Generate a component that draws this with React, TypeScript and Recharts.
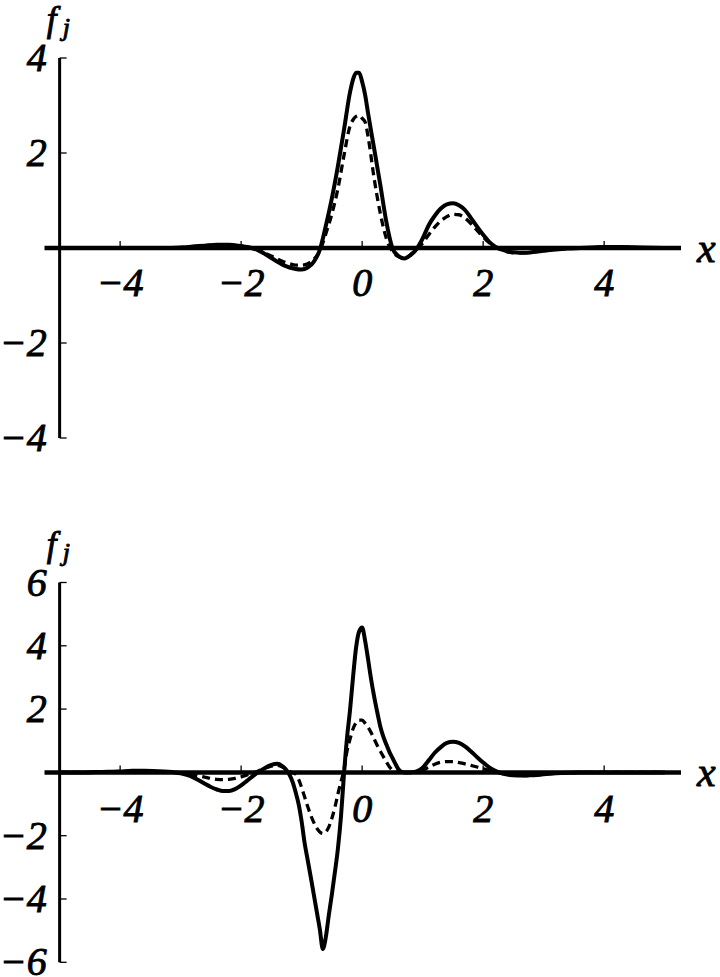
import React from 'react';
import { LineChart, Line, XAxis, YAxis, ReferenceLine, ReferenceDot } from 'recharts';

// x ticks shared by both panels
const xTicks = [-4, -2, 0, 2, 4];
const xTickLabels = ['−4', '−2', '0', '2', '4'];

const topYTicks = [4, 2, -2, -4];
const topYTickLabels = ['4', '2', '−2', '−4'];
const bottomYTicks = [6, 4, 2, -2, -4, -6];
const bottomYTickLabels = ['6', '4', '2', '−2', '−4', '−6'];

// upper panel
const topX = [
  -5, -4.5, -4, -3.5, -3.2, -3.0, -2.8, -2.6, -2.4, -2.2, -2.0, -1.9, -1.8, -1.7, -1.6, -1.5,
  -1.4, -1.3, -1.2, -1.1, -1.0, -0.9, -0.8, -0.7, -0.6, -0.5, -0.4, -0.3, -0.2, -0.15, -0.1,
  -0.05, 0, 0.05, 0.1, 0.2, 0.3, 0.4, 0.5, 0.6, 0.7, 0.8, 0.9, 1.0, 1.1, 1.2, 1.3, 1.4, 1.5,
  1.6, 1.7, 1.8, 1.9, 2.0, 2.1, 2.2, 2.3, 2.4, 2.5, 2.6, 2.7, 2.8, 3.0, 3.2, 3.4, 3.6, 3.8,
  4.0, 4.3, 4.6, 5.0,
];
const topSolid = [
  0, 0, 0, 0, 0, 0.01, 0.03, 0.05, 0.07, 0.07, 0.04, 0.02, -0.01, -0.06, -0.13, -0.21,
  -0.29, -0.36, -0.41, -0.44, -0.45, -0.41, -0.29, -0.04, 0.47, 1.05, 1.73, 2.49, 3.28, 3.55, 3.69,
  3.69, 3.5, 3.22, 2.82, 2.08, 1.33, 0.55, 0.0, -0.17, -0.22, -0.15, -0.02, 0.2, 0.48, 0.68, 0.83, 0.92, 0.94,
  0.9, 0.8, 0.63, 0.45, 0.28, 0.13, 0.03, -0.03, -0.07, -0.09, -0.1, -0.1, -0.09, -0.06, -0.03, -0.01, 0.0, 0.01,
  0.02, 0.02, 0.01, 0,
];
const topDashed = [
  0, 0, 0, 0, 0, 0.01, 0.03, 0.05, 0.06, 0.06, 0.04, 0.02, -0.01, -0.05, -0.11, -0.17,
  -0.23, -0.29, -0.33, -0.36, -0.36, -0.33, -0.24, -0.06, 0.3, 0.72, 1.25, 1.95, 2.57, 2.7, 2.77,
  2.79, 2.73, 2.65, 2.33, 1.45, 0.73, 0.2, -0.07, -0.18, -0.21, -0.14, -0.03, 0.1, 0.28, 0.44, 0.57, 0.66, 0.71,
  0.7, 0.63, 0.51, 0.37, 0.23, 0.11, 0.02, -0.04, -0.08, -0.1, -0.1, -0.1, -0.09, -0.06, -0.03, -0.01, 0, 0.01,
  0.02, 0.02, 0.01, 0,
];

// lower panel
const bottomX = [
  -5, -4.6, -4.4, -4.2, -4.0, -3.8, -3.6, -3.4, -3.2, -3.1, -3.0, -2.9, -2.8, -2.7, -2.6, -2.5,
  -2.4, -2.3, -2.2, -2.1, -2.0, -1.9, -1.8, -1.7, -1.6, -1.5, -1.4, -1.3, -1.25, -1.2, -1.15,
  -1.1, -1.05, -1.0, -0.95, -0.9, -0.85, -0.8, -0.75, -0.7, -0.65, -0.6, -0.55, -0.5, -0.45,
  -0.4, -0.35, -0.3, -0.25, -0.2, -0.15, -0.1, -0.05, 0, 0.05, 0.1, 0.15, 0.2, 0.25, 0.3,
  0.35, 0.4, 0.45, 0.5, 0.55, 0.6, 0.65, 0.7, 0.8, 0.9, 1.0, 1.1, 1.2, 1.3, 1.4, 1.5, 1.6,
  1.7, 1.8, 1.9, 2.0, 2.1, 2.2, 2.3, 2.4, 2.5, 2.6, 2.7, 2.8, 2.9, 3.0, 3.2, 3.4, 3.6, 4.0,
  4.5, 5.0,
];
const bottomSolid = [
  0, 0, 0.01, 0.02, 0.03, 0.05, 0.05, 0.04, 0.02, 0.0, -0.03, -0.08, -0.15, -0.25, -0.36, -0.46,
  -0.54, -0.59, -0.59, -0.53, -0.41, -0.26, -0.11, 0.03, 0.15, 0.24, 0.27, 0.17, 0.07, -0.08, -0.3,
  -0.62, -1.0, -1.55, -2.24, -2.77, -3.3, -3.85, -4.4, -4.95, -5.58, -5.2, -4.5, -3.85, -3.15,
  -2.4, -1.4, -0.05, 1.1, 1.97, 3.02, 3.95, 4.45, 4.58, 4.15, 3.55, 2.92, 2.38, 1.9, 1.45,
  1.13, 0.88, 0.65, 0.46, 0.27, 0.1, 0.02, 0.0, 0.0, 0.03, 0.15, 0.38, 0.62, 0.8, 0.93, 0.97, 0.93,
  0.82, 0.66, 0.48, 0.31, 0.16, 0.05, -0.02, -0.07, -0.09, -0.1, -0.1, -0.09, -0.08, -0.06, -0.03, -0.01, 0, 0,
  0, 0,
];
const bottomDashed = [
  0, 0, 0.01, 0.02, 0.03, 0.04, 0.04, 0.03, 0.01, 0, -0.01, -0.03, -0.07, -0.11, -0.15, -0.19,
  -0.22, -0.23, -0.22, -0.19, -0.14, -0.08, -0.01, 0.06, 0.14, 0.2, 0.22, 0.15, 0.09, 0.03, -0.01,
  -0.05, -0.22, -0.48, -0.78, -1.08, -1.35, -1.58, -1.76, -1.88, -1.93, -1.88, -1.72, -1.45, -1.1,
  -0.68, -0.3, 0.08, 0.68, 1.05, 1.38, 1.57, 1.65, 1.65, 1.55, 1.42, 1.25, 1.05, 0.85, 0.67,
  0.5, 0.33, 0.18, 0.07, 0.01, 0, 0, 0, 0, 0, 0.06, 0.17, 0.26, 0.32, 0.34, 0.34, 0.31,
  0.27, 0.22, 0.17, 0.12, 0.06, 0.01, -0.03, -0.07, -0.09, -0.1, -0.1, -0.09, -0.08, -0.06, -0.03, -0.01, 0, 0,
  0, 0,
];

const textProps = {
  fontFamily: "'Liberation Serif', 'Times New Roman', serif",
  fontStyle: 'italic',
  fill: '#000',
  stroke: '#000',
  strokeWidth: 0.9,
};

type PanelProps = {
  xs: number[];
  solid: number[];
  dashed: number[];
  yTicks: number[];
  yLabels: string[];
  yMax: number;
  top: number;
  height: number;
  marginTop: number;
  marginBottom: number;
  labelDrop: number;
};

const Panel = ({ xs, solid, dashed, yTicks, yLabels, yMax, top, height, marginTop, marginBottom, labelDrop }: PanelProps) => {
  const data = xs.map((x, i) => ({ x, solid: solid[i], dashed: dashed[i] }));
  return (
    <div style={{ position: 'absolute', left: 0, top, width: 720, height }}>
      <LineChart
        width={720}
        height={height}
        data={data}
        margin={{ top: marginTop, right: 39, bottom: marginBottom, left: 44.5 }}
      >
        <XAxis type="number" dataKey="x" domain={[-5.25, 5.27]} hide allowDataOverflow />
        <YAxis type="number" domain={[-yMax, yMax]} hide allowDataOverflow />

        {/* axes drawn as reference lines so they cross at the origin */}
        <ReferenceLine x={-5} stroke="#000" strokeWidth={3} />
        <ReferenceLine y={0} stroke="#000" strokeWidth={4.5} />

        {yTicks.map((t, i) => (
          <ReferenceDot
            key={'y' + t}
            x={-5}
            y={t}
            r={0}
            ifOverflow="visible"
            shape={(p: any) => (
              <g>
                <line x1={p.cx} x2={p.cx + 7} y1={p.cy} y2={p.cy} stroke="#000" strokeWidth={1.3} />
                <text x={p.cx - 13} y={p.cy + 13} textAnchor="end" fontSize={40} {...textProps}>
                  {yLabels[i]}
                </text>
              </g>
            )}
          />
        ))}

        {xTicks.map((t, i) => (
          <ReferenceDot
            key={'x' + t}
            x={t}
            y={0}
            r={0}
            ifOverflow="visible"
            shape={(p: any) => (
              <g>
                <line x1={p.cx} x2={p.cx} y1={p.cy} y2={p.cy - 7} stroke="#000" strokeWidth={1.3} />
                <text x={p.cx} y={p.cy + labelDrop} textAnchor="middle" fontSize={40} {...textProps}>
                  {xTickLabels[i]}
                </text>
              </g>
            )}
          />
        ))}

        <ReferenceDot
          x={5.27}
          y={0}
          r={0}
          ifOverflow="visible"
          shape={(p: any) => (
            <text x={p.cx + 16} y={p.cy + 14} fontSize={42} {...textProps}>
              x
            </text>
          )}
        />
        <ReferenceDot
          x={-5}
          y={yMax}
          r={0}
          ifOverflow="visible"
          shape={(p: any) => (
            <g>
              <text x={p.cx - 13} y={p.cy - 27} fontSize={35} {...textProps}>
                f
              </text>
              <text x={p.cx + 3} y={p.cy - 22} fontSize={26} {...textProps}>
                j
              </text>
            </g>
          )}
        />

        <Line
          type="monotone"
          dataKey="dashed"
          stroke="#000"
          strokeWidth={3.3}
          strokeDasharray="8 5"
          dot={false}
          activeDot={false}
          isAnimationActive={false}
        />
        <Line
          type="monotone"
          dataKey="solid"
          stroke="#000"
          strokeWidth={4}
          dot={false}
          activeDot={false}
          isAnimationActive={false}
        />
      </LineChart>
    </div>
  );
};

export default function App() {
  return (
    <div style={{ position: 'absolute', left: 0, top: 0, width: 720, height: 977, background: '#fff' }}>
      <Panel
        xs={topX}
        solid={topSolid}
        dashed={topDashed}
        yTicks={topYTicks}
        yLabels={topYTickLabels}
        yMax={4}
        top={0}
        height={490}
        marginTop={58}
        marginBottom={52}
        labelDrop={48}
      />
      <Panel
        xs={bottomX}
        solid={bottomSolid}
        dashed={bottomDashed}
        yTicks={bottomYTicks}
        yLabels={bottomYTickLabels}
        yMax={6}
        top={490}
        height={487}
        marginTop={92.5}
        marginBottom={14.7}
        labelDrop={50}
      />
    </div>
  );
}
